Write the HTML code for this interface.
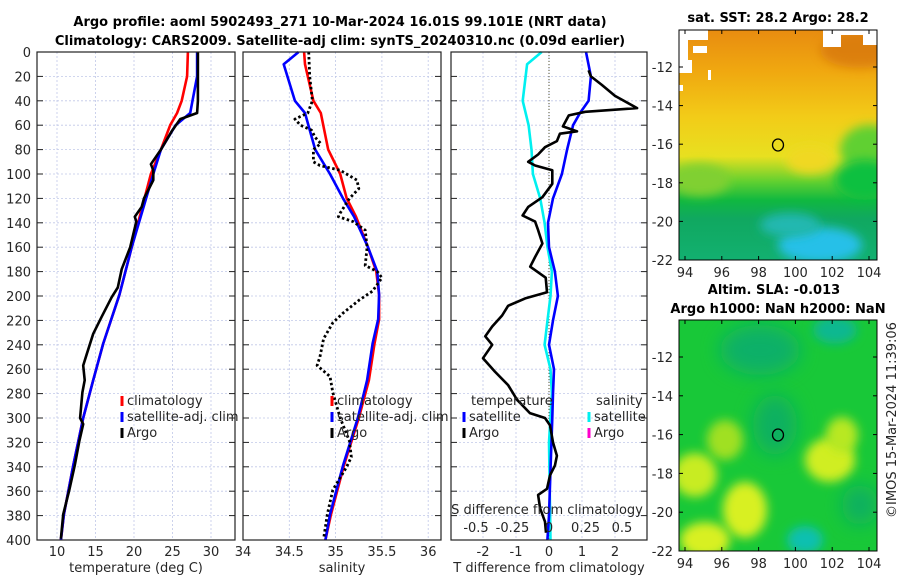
<!DOCTYPE html>
<html><head><meta charset="utf-8"><style>
html,body{margin:0;padding:0;background:#fff;}
svg{display:block;font-family:"DejaVu Sans","Liberation Sans",sans-serif;}
.tk{font-size:13px;fill:#262626;}
.tt{font-size:13px;font-weight:bold;fill:#000;}
</style></head><body>
<svg id="fig" width="900" height="580" viewBox="0 0 900 580" xmlns="http://www.w3.org/2000/svg">
<defs>
<filter id="bl" x="-50%" y="-50%" width="200%" height="200%"><feGaussianBlur stdDeviation="9"/></filter>
<filter id="bl2" x="-50%" y="-50%" width="200%" height="200%"><feGaussianBlur stdDeviation="5"/></filter>
<clipPath id="c1"><rect x="679" y="30" width="198" height="230"/></clipPath>
<clipPath id="c2"><rect x="679" y="320" width="198" height="231"/></clipPath>
<linearGradient id="sstg" x1="0" y1="0" x2="0" y2="1">
<stop offset="0" stop-color="#e88c10"/><stop offset="0.18" stop-color="#f0a810"/>
<stop offset="0.38" stop-color="#f2cc18"/><stop offset="0.55" stop-color="#e8e020"/>
<stop offset="0.66" stop-color="#60d030"/><stop offset="0.74" stop-color="#10b840"/>
<stop offset="0.82" stop-color="#10a860"/><stop offset="1" stop-color="#12b070"/>
</linearGradient>
</defs>
<text class="tt" x="340" y="26" text-anchor="middle">Argo profile: aoml 5902493_271 10-Mar-2024 16.01S 99.101E (NRT data)</text>
<text class="tt" x="340" y="45" text-anchor="middle">Climatology: CARS2009. Satellite-adj clim: synTS_20240310.nc (0.09d earlier)</text>
<g id="p1"></g>
<g id="p2"></g>
<g id="p3"></g>

<g>
<text class="tt" x="778" y="22" text-anchor="middle">sat. SST: 28.2 Argo: 28.2</text>
<g clip-path="url(#c1)">
<rect x="679" y="30" width="198" height="230" fill="url(#sstg)"/>
<ellipse cx="860" cy="50" rx="40" ry="18" fill="#d87808" filter="url(#bl2)" opacity="0.8"/>
<ellipse cx="700" cy="180" rx="30" ry="16" fill="#80d030" filter="url(#bl2)"/>
<ellipse cx="870" cy="150" rx="30" ry="25" fill="#60d030" filter="url(#bl2)"/>
<ellipse cx="865" cy="180" rx="30" ry="20" fill="#10c040" filter="url(#bl2)"/>
<ellipse cx="810" cy="160" rx="24" ry="14" fill="#f0d820" filter="url(#bl2)"/>
<ellipse cx="820" cy="245" rx="42" ry="18" fill="#28c0e8" filter="url(#bl2)"/>
<ellipse cx="790" cy="225" rx="30" ry="12" fill="#20b8b0" filter="url(#bl2)"/>
<rect x="679" y="30" width="9" height="30" fill="#fff"/>
<rect x="688" y="30" width="20" height="10" fill="#fff"/>
<rect x="679" y="60" width="13" height="13" fill="#fff"/>
<rect x="693" y="46" width="14" height="7" fill="#fff"/>
<rect x="679" y="85" width="4" height="6" fill="#fff"/>
<rect x="708" y="70" width="3" height="10" fill="#fff"/>
<rect x="823" y="30" width="18" height="17" fill="#fff"/>
<rect x="841" y="30" width="22" height="5" fill="#fff"/>
<rect x="863" y="30" width="14" height="15" fill="#fff"/>
</g>
<rect x="679" y="30" width="198" height="230" fill="none" stroke="#000" stroke-width="1"/>
<ellipse cx="778" cy="145" rx="5.5" ry="6" fill="none" stroke="#000" stroke-width="1.3"/>
<g id="m1ticks"></g>
</g>
<text class="tt" x="774" y="294" text-anchor="middle">Altim. SLA: -0.013</text>
<text class="tt" x="778" y="313" text-anchor="middle">Argo h1000: NaN h2000: NaN</text>
<g>
<g clip-path="url(#c2)">
<rect x="679" y="320" width="198" height="231" fill="#18c838"/>
<ellipse cx="760" cy="350" rx="40" ry="25" fill="#10b068" filter="url(#bl)"/>
<ellipse cx="835" cy="330" rx="22" ry="14" fill="#10b890" filter="url(#bl2)"/>
<ellipse cx="775" cy="425" rx="22" ry="30" fill="#10b060" filter="url(#bl)"/>
<ellipse cx="725" cy="440" rx="18" ry="20" fill="#a0e020" filter="url(#bl2)"/>
<ellipse cx="695" cy="475" rx="22" ry="22" fill="#c8ec20" filter="url(#bl2)"/>
<ellipse cx="745" cy="510" rx="22" ry="28" fill="#d8f020" filter="url(#bl2)"/>
<ellipse cx="705" cy="540" rx="25" ry="18" fill="#d8f020" filter="url(#bl2)"/>
<ellipse cx="830" cy="460" rx="25" ry="22" fill="#d0ee20" filter="url(#bl2)"/>
<ellipse cx="842" cy="435" rx="16" ry="18" fill="#b8e820" filter="url(#bl2)"/>
<ellipse cx="805" cy="540" rx="18" ry="14" fill="#10c0b0" filter="url(#bl2)"/>
<ellipse cx="860" cy="505" rx="18" ry="20" fill="#10b060" filter="url(#bl)"/>
</g>
<rect x="679" y="320" width="198" height="231" fill="none" stroke="#000" stroke-width="1"/>
<ellipse cx="778" cy="435" rx="5.5" ry="6" fill="none" stroke="#000" stroke-width="1.3"/>
<g id="m2ticks"></g>
</g>
<text class="tk" transform="translate(896,420) rotate(-90)" text-anchor="middle">©IMOS 15-Mar-2024 11:39:06</text>
</svg>
<script>
const argoTDepth=[0,20,40,50,55,65,80,92,97,105,120,127,135,139,160,178,193,201,217,231,247,257,269,279,300,305,319,339,359,379,399];
const argoT=[28.3,28.3,28.3,28.2,26.0,24.9,23.5,22.2,22.5,22.5,21.3,21.0,20.1,20.3,19.5,18.4,17.9,17.1,15.8,14.7,13.9,13.4,13.6,13.3,13.0,13.4,12.9,12.3,11.6,10.8,10.5];
const climTDepth=[0,20,40,50,60,80,100,160,199,239,269,300,339,379,400];
const climT=[27.0,26.9,26.2,25.6,24.7,23.5,22.2,19.7,18.1,16.0,14.7,13.4,12.1,10.9,10.5];
const satT=[28.2,28.2,27.6,27.3,25.4,23.5,22.5,19.7,18.1,16.0,14.7,13.4,12.1,10.9,10.5];
const argoSDepth=[0,20,40,50,55,60,64,70,75,80,90,93,97,105,112,120,132,135,139,146,160,175,180,185,196,203,214,222,235,250,257,266,279,300,319,332,340,359,379,399];
const argoS=[34.71,34.72,34.75,34.70,34.56,34.62,34.74,34.78,34.84,34.76,34.76,34.83,35.05,35.23,35.25,35.15,35.05,35.03,35.19,35.32,35.34,35.32,35.45,35.50,35.40,35.26,35.08,34.97,34.87,34.83,34.80,34.94,34.97,35.05,35.15,35.17,35.12,34.97,34.91,34.87];
const climSDepth=[0,10,40,50,80,100,120,135,160,180,199,219,239,269,300,339,379,400];
const climS=[34.66,34.67,34.76,34.84,34.92,35.05,35.12,35.22,35.35,35.44,35.47,35.47,35.42,35.36,35.25,35.09,34.95,34.89];
const satS=[34.60,34.44,34.56,34.67,34.78,34.94,35.08,35.20,35.35,35.45,35.47,35.46,35.40,35.34,35.24,35.08,34.94,34.89];
const satTdDepth=[0,20,40,50,60,80,100,120,140,160,180,200,220,240,260,280,300,340,380,400];
const satTd=[1.12,1.27,1.2,0.94,0.73,0.55,0.39,0.12,-0.03,0.0,0.18,0.27,0.12,0.0,0.15,0.12,0.1,0.05,0.0,-0.05];
const argoTdDepth=[15,20,27,36,46,49,52,61,65,67,73,78,84,90,93,97,108,119,127,134,139,146,157,168,176,185,197,202,208,216,225,233,240,251,262,273,285,296,300,306,320,331,339,347,358,363,374,385,394];
const argoTd=[1.2,1.27,1.6,2.0,2.67,1.1,0.6,0.42,0.85,0.33,0.24,-0.12,-0.33,-0.63,-0.42,0.1,0.1,-0.2,-0.63,-0.8,-0.42,-0.33,-0.2,-0.42,-0.57,-0.1,-0.06,-0.72,-1.24,-1.42,-1.72,-1.93,-1.72,-2.0,-1.64,-1.24,-0.97,-0.58,-0.12,0.03,0.12,0.24,0.18,0.03,-0.06,-0.33,-0.27,-0.12,-0.09];
const satSdDepth=[0,10,40,60,80,100,120,140,160,180,200,220,240,260,280,320,400];
const satSd=[-0.05,-0.15,-0.18,-0.14,-0.12,-0.11,-0.06,-0.03,-0.01,0.02,0.01,-0.01,-0.03,0.01,0.02,0.0,0.01];
const depthTicks=[0,20,40,60,80,100,120,140,160,180,200,220,240,260,280,300,320,340,360,380,400];
const tTicks=[10,15,20,25,30];
const sTicks=[34,34.5,35,35.5,36];
const dTTicks=[-2,-1,0,1,2];
const dSTicks=[-0.5,-0.25,0,0.25,0.5];
const dSTickLabels=["-0.5","-0.25","0","0.25","0.5"];
const lonTicks=[94,96,98,100,102,104];
const latTicks=[-12,-14,-16,-18,-20,-22];

const yD=d=>52+d*1.22;
const xT=t=>57+(t-10)*7.7;
const xS=s=>243+(s-34)*92.6;
const xDT=v=>549+v*33;
const xDS=v=>549+v*146;
const NS='http://www.w3.org/2000/svg';
function mk(tag,attrs,parent){const e=document.createElementNS(NS,tag);for(const k in attrs)e.setAttribute(k,attrs[k]);parent.appendChild(e);return e;}
function line(parent,xs,ds,xf,color,dash,w){
  const pts=xs.map((v,i)=>xf(v).toFixed(1)+','+yD(ds[i]).toFixed(1)).join(' ');
  const a={points:pts,fill:'none',stroke:color,'stroke-width':w||2.6,'stroke-linejoin':'round'};
  if(dash)a['stroke-dasharray']=dash;
  return mk('polyline',a,parent);
}
function frame(g,x0,x1,xt,xf,labels,showY){
  mk('rect',{x:x0,y:52,width:x1-x0,height:488,fill:'#fff'},g);
  depthTicks.forEach(d=>{
    if(d>0&&d<400)mk('line',{x1:x0,x2:x1,y1:yD(d),y2:yD(d),stroke:'#c0c8e8','stroke-width':0.8,'stroke-dasharray':'2,2'},g);
    mk('line',{x1:x0,x2:x0+6,y1:yD(d),y2:yD(d),stroke:'#222'},g);
    mk('line',{x1:x1-6,x2:x1,y1:yD(d),y2:yD(d),stroke:'#222'},g);
    if(showY){const t=mk('text',{x:31,y:yD(d)+5,'text-anchor':'end',class:'tk'},g);t.textContent=d;
      
      }
  });
  xt.forEach((v,i)=>{const x=xf(v);
    if(x>x0+1&&x<x1-1)mk('line',{x1:x,x2:x,y1:52,y2:540,stroke:'#c0c8e8','stroke-width':0.8,'stroke-dasharray':'2,2'},g);
    if(labels){const t=mk('text',{x:x,y:556,'text-anchor':'middle',class:'tk'},g);t.textContent=labels[i];
      
      }
  });
}
function border(g,x0,x1){mk('rect',{x:x0,y:52,width:x1-x0,height:488,fill:'none',stroke:'#222','stroke-width':1.2},g);}
function legend(g,x,y,color,label,dash){
  mk('line',{x1:x,x2:x,y1:y-9,y2:y+1,stroke:color,'stroke-width':3,'stroke-dasharray':dash||''},g);
  const t=mk('text',{x:x+5,y:y,class:'tk'},g);t.textContent=label;
  
  
}
const p1=document.getElementById('p1');
frame(p1,37,235,tTicks,xT,tTicks,true);
const l1=line(p1,climT,climTDepth,xT,'#ff0000');


const l2=line(p1,satT,climTDepth,xT,'#0000ff');


const l3=line(p1,argoT,argoTDepth,xT,'#000');


border(p1,37,235);
legend(p1,122,405,'#ff0000','climatology');
legend(p1,122,421,'#0000ff','satellite-adj. clim');
legend(p1,122,437,'#000','Argo');
{const t=mk('text',{x:136,y:572,'text-anchor':'middle',class:'tk'},p1);t.textContent='temperature (deg C)';

}
const p2=document.getElementById('p2');
frame(p2,243,441,sTicks,xS,sTicks,false);
const s1=line(p2,climS,climSDepth,xS,'#ff0000');


const s2=line(p2,satS,climSDepth,xS,'#0000ff');


const s3=line(p2,argoS,argoSDepth,xS,'#000','2.5,2.5',2.8);


border(p2,243,441);
legend(p2,332,405,'#ff0000','climatology');
legend(p2,332,421,'#0000ff','satellite-adj. clim');
legend(p2,332,437,'#000','Argo');
{const t=mk('text',{x:342,y:572,'text-anchor':'middle',class:'tk'},p2);t.textContent='salinity';

}
const p3=document.getElementById('p3');
frame(p3,451,647,dTTicks,xDT,dTTicks,false);
mk('line',{x1:549,x2:549,y1:52,y2:540,stroke:'#553','stroke-width':1,'stroke-dasharray':'1,2'},p3);
const d1=line(p3,satSd,satSdDepth,xDS,'#00f0f0');


const d2=line(p3,satTd,satTdDepth,xDT,'#0000ff');


const d3=line(p3,argoTd,argoTdDepth,xDT,'#000');


border(p3,451,647);
{const t=mk('text',{x:471,y:405,class:'tk'},p3);t.textContent='temperature';

}
{const t=mk('text',{x:596,y:405,class:'tk'},p3);t.textContent='salinity';

}
legend(p3,464,421,'#0000ff','satellite');
legend(p3,589,421,'#00f0f0','satellite');
legend(p3,464,437,'#000','Argo');
legend(p3,589,437,'#ff00cc','Argo');
{const t=mk('text',{x:547,y:514,'text-anchor':'middle',class:'tk'},p3);t.textContent='S difference from climatology';

}
dSTicks.forEach((v,i)=>{const t=mk('text',{x:xDS(v),y:532,'text-anchor':'middle',class:'tk'},p3);t.textContent=dSTickLabels[i];

});
{const t=mk('text',{x:549,y:572,'text-anchor':'middle',class:'tk'},p3);t.textContent='T difference from climatology';

}
const xLon=l=>685+(l-94)*18.4;
function mapTicks(id,yTop,yBot,yLat){
  const g=document.getElementById(id);
  lonTicks.forEach(l=>{const x=xLon(l);
    mk('line',{x1:x,x2:x,y1:yBot,y2:yBot-4,stroke:'#000'},g);
    mk('line',{x1:x,x2:x,y1:yTop,y2:yTop+4,stroke:'#000'},g);
    const t=mk('text',{x:x,y:yBot+17,'text-anchor':'middle',class:'tk'},g);t.textContent=l;
    
    });
  latTicks.forEach(la=>{const y=yLat(la);
    mk('line',{x1:679,x2:683,y1:y,y2:y,stroke:'#000'},g);
    mk('line',{x1:873,x2:877,y1:y,y2:y,stroke:'#000'},g);
    const t=mk('text',{x:673,y:y+5,'text-anchor':'end',class:'tk'},g);t.textContent=la;
    
    });
}
mapTicks('m1ticks',30,260,la=>67+(-12-la)*19.3);
mapTicks('m2ticks',320,551,la=>357+(-12-la)*19.4);
</script>
</body></html>
